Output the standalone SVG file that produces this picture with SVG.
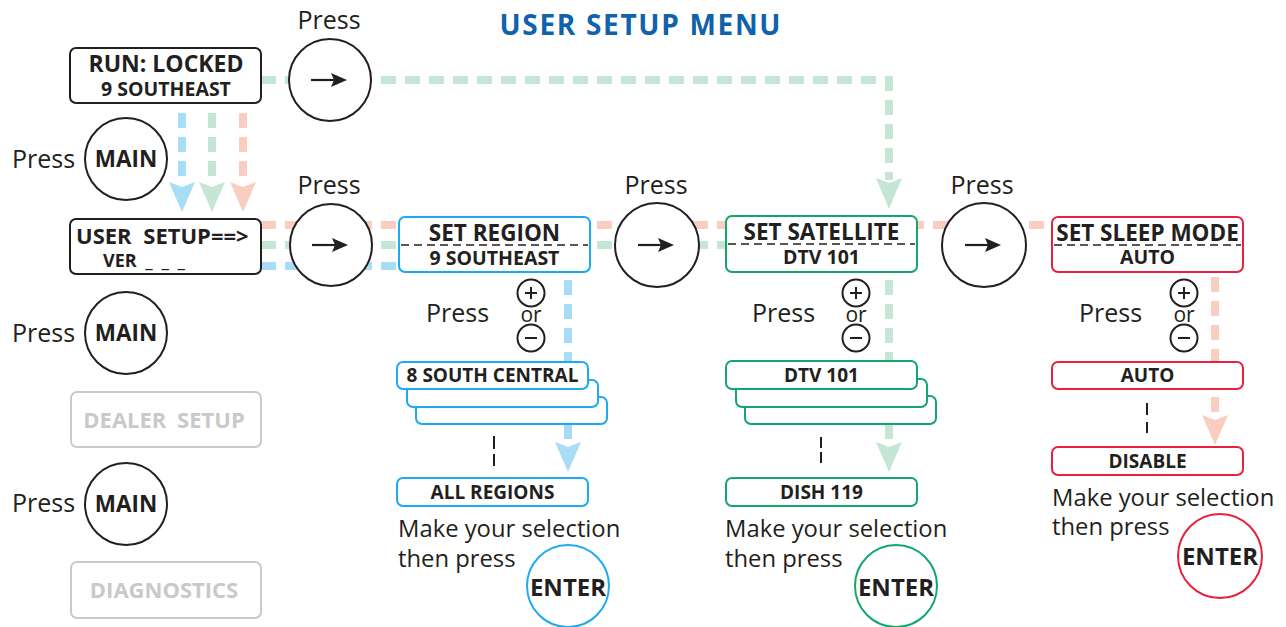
<svg xmlns="http://www.w3.org/2000/svg" width="1286" height="627" viewBox="0 0 1286 627">
<style>
text{font-family:"Open Sans","Noto Sans","Liberation Sans",sans-serif;fill:#231f20}
.b{font-weight:700}
.m{text-anchor:middle}
.p{font-size:25px}
.t1{font-size:22.5px;font-weight:700;text-anchor:middle}
.t2{font-size:19px;font-weight:700;text-anchor:middle}
.sel{font-size:23.8px}
.box{fill:#fff;stroke:#231f20;stroke-width:2}
.bl{fill:#fff;stroke:#1eaaf1;stroke-width:2}
.gr{fill:#fff;stroke:#12a86d;stroke-width:2}
.rd{fill:#fff;stroke:#e8213f;stroke-width:2}
.gy{fill:#fff;stroke:#c8c9cb;stroke-width:2}
.gyt{fill:#c8c9cb}
.dl{fill:none;stroke-width:8;stroke-dasharray:15 9}
.cb{stroke:#a9dcf5}.cg{stroke:#c5e6d5}.cr{stroke:#f9cdc0}
.fb{fill:#a9dcf5}.fg{fill:#c5e6d5}.fr{fill:#f9cdc0}
.sep{stroke:#231f20;stroke-width:1.3;stroke-dasharray:8 5}
.tick{stroke:#231f20;stroke-width:2}
</style>
<defs>
<g id="rarrow">
<line x1="-19" y1="0" x2="6" y2="0" stroke="#231f20" stroke-width="2.2"/>
<polygon points="17,0 1,-7 4,0 1,7" fill="#231f20"/>
</g>
<g id="plus">
<circle r="13.5" fill="#fff" stroke="#231f20" stroke-width="2"/>
<line x1="-6" y1="0" x2="6" y2="0" stroke="#231f20" stroke-width="2"/>
<line x1="0" y1="-6" x2="0" y2="6" stroke="#231f20" stroke-width="2"/>
</g>
<g id="minus">
<circle r="13.5" fill="#fff" stroke="#231f20" stroke-width="2"/>
<line x1="-6" y1="0" x2="6" y2="0" stroke="#231f20" stroke-width="2"/>
</g>
</defs>

<rect width="1286" height="627" fill="#fff"/>

<text id="title" x="640" y="35" class="b m" style="font-size:28px;fill:#1062aa" textLength="281">USER SETUP MENU</text>

<g id="connectors">
<path class="dl cg" d="M261,80 H889 V180"/>
<polygon class="fg" points="876,178 889,183 902,178 889,209"/>
<line class="dl cb" x1="182" y1="113" x2="182" y2="182"/>
<line class="dl cg" x1="212" y1="113" x2="212" y2="182"/>
<line class="dl cr" x1="243" y1="113" x2="243" y2="182"/>
<polygon class="fb" points="169,182 182,187 195,182 182,212"/>
<polygon class="fg" points="199,182 212,187 225,182 212,212"/>
<polygon class="fr" points="230,182 243,187 256,182 243,212"/>
<line class="dl cr" x1="261" y1="225" x2="1052" y2="225"/>
<line class="dl cg" x1="261" y1="245" x2="726" y2="245"/>
<line class="dl cb" x1="261" y1="266" x2="399" y2="266"/>
<line class="dl cb" x1="568" y1="280" x2="568" y2="444"/>
<polygon class="fb" points="555,442 568,447 581,442 568,472"/>
<line class="dl cg" x1="889" y1="280" x2="889" y2="444"/>
<polygon class="fg" points="876,442 889,447 902,442 889,472"/>
<line class="dl cr" x1="1215" y1="277" x2="1215" y2="417"/>
<polygon class="fr" points="1202,415 1215,420 1228,415 1215,445"/>
<line class="tick" x1="494" y1="436" x2="494" y2="449"/>
<line class="tick" x1="494" y1="454" x2="494" y2="466"/>
<line class="tick" x1="821" y1="437" x2="821" y2="448"/>
<line class="tick" x1="821" y1="452" x2="821" y2="463"/>
<line class="tick" x1="1147" y1="403" x2="1147" y2="415"/>
<line class="tick" x1="1147" y1="422" x2="1147" y2="433"/>
</g>

<g id="run-locked">
<rect class="box" x="70" y="48" width="191" height="55" rx="6"/>
<text x="166" y="72" class="m b" style="font-size:23px">RUN: LOCKED</text>
<text x="166" y="96" class="t2" style="font-size:19.5px">9 SOUTHEAST</text>
</g>

<g id="press-right-1">
<text x="329" y="29" class="p m">Press</text>
<circle cx="330" cy="80" r="41" class="box"/>
<use href="#rarrow" x="330" y="80"/>
</g>

<g id="press-main-1">
<text x="12" y="168" class="p">Press</text>
<circle cx="126" cy="159" r="41" class="box"/>
<text x="126" y="167" class="m b" style="font-size:22.5px">MAIN</text>
</g>

<g id="user-setup">
<rect class="box" x="70" y="219" width="191" height="55" rx="6"/>
<text x="76" y="244" class="b" style="font-size:22px;word-spacing:6px">USER SETUP==&gt;</text>
<text x="103" y="267" class="b" style="font-size:18px;word-spacing:4px">VER _ _ _</text>
</g>

<g id="press-right-2">
<text x="329" y="194" class="p m">Press</text>
<circle cx="331" cy="245" r="41" class="box"/>
<use href="#rarrow" x="331" y="245"/>
</g>

<g id="press-main-2">
<text x="12" y="342" class="p">Press</text>
<circle cx="126" cy="333" r="41" class="box"/>
<text x="126" y="341" class="m b" style="font-size:22.5px">MAIN</text>
</g>

<g id="dealer-setup">
<rect class="gy" x="71" y="392" width="190" height="55" rx="6"/>
<text x="164" y="428" class="m b gyt" style="font-size:22px;word-spacing:5px">DEALER SETUP</text>
</g>

<g id="press-main-3">
<text x="12" y="512" class="p">Press</text>
<circle cx="126" cy="504" r="41" class="box"/>
<text x="126" y="512" class="m b" style="font-size:22.5px">MAIN</text>
</g>

<g id="diagnostics">
<rect class="gy" x="71" y="562" width="190" height="56" rx="6"/>
<text x="164" y="598" class="m b gyt" style="font-size:22px">DIAGNOSTICS</text>
</g>

<g id="set-region">
<rect class="bl" x="399" y="217" width="191" height="55" rx="6"/>
<line class="sep" x1="401" y1="245" x2="588" y2="245"/>
<text x="494.5" y="241" class="t1">SET REGION</text>
<text x="494.5" y="265" class="t2" style="font-size:19.5px">9 SOUTHEAST</text>
</g>

<g id="region-press">
<text x="426" y="322" class="p">Press</text>
<use href="#plus" x="531" y="293"/>
<text x="531" y="322" class="m" style="font-size:21px">or</text>
<use href="#minus" x="531" y="338"/>
</g>

<g id="region-list">
<rect class="bl" x="416" y="397" width="191" height="27" rx="6"/>
<rect class="bl" x="407" y="380" width="191" height="27" rx="6"/>
<rect class="bl" x="397" y="362" width="191" height="27" rx="6"/>
<text x="492.5" y="382" class="t2">8 SOUTH CENTRAL</text>
</g>

<g id="all-regions">
<rect class="bl" x="397" y="478" width="191" height="28" rx="6"/>
<text x="492.5" y="499" class="t2">ALL REGIONS</text>
</g>

<g id="region-enter">
<text x="398" y="537" class="sel">Make your selection</text>
<text x="398" y="567" class="sel">then press</text>
<circle cx="568" cy="586" r="41" class="bl"/>
<text x="568" y="596" class="m b" style="font-size:24px">ENTER</text>
</g>

<g id="press-right-3">
<text x="656" y="194" class="p m">Press</text>
<circle cx="657" cy="245" r="42" class="box"/>
<use href="#rarrow" x="657" y="245"/>
</g>

<g id="set-satellite">
<rect class="gr" x="726" y="216" width="191" height="56" rx="6"/>
<line class="sep" x1="728" y1="244" x2="915" y2="244"/>
<text x="821.5" y="240" class="t1">SET SATELLITE</text>
<text x="821.5" y="264" class="t2" style="font-size:19.5px">DTV 101</text>
</g>

<g id="satellite-press">
<text x="752" y="322" class="p">Press</text>
<use href="#plus" x="856" y="293"/>
<text x="856" y="322" class="m" style="font-size:21px">or</text>
<use href="#minus" x="856" y="338"/>
</g>

<g id="satellite-list">
<rect class="gr" x="745" y="396" width="191" height="28" rx="6"/>
<rect class="gr" x="736" y="379" width="191" height="28" rx="6"/>
<rect class="gr" x="726" y="361" width="191" height="28" rx="6"/>
<text x="821.5" y="382" class="t2">DTV 101</text>
</g>

<g id="dish-119">
<rect class="gr" x="726" y="478" width="191" height="28" rx="6"/>
<text x="821.5" y="499" class="t2">DISH 119</text>
</g>

<g id="satellite-enter">
<text x="725" y="537" class="sel">Make your selection</text>
<text x="725" y="567" class="sel">then press</text>
<circle cx="896" cy="586" r="41" class="gr"/>
<text x="896" y="596" class="m b" style="font-size:24px">ENTER</text>
</g>

<g id="press-right-4">
<text x="982" y="194" class="p m">Press</text>
<circle cx="984" cy="245" r="42" class="box"/>
<use href="#rarrow" x="984" y="245"/>
</g>

<g id="set-sleep-mode">
<rect class="rd" x="1052" y="217" width="191" height="55" rx="6"/>
<line class="sep" x1="1054" y1="245" x2="1241" y2="245"/>
<text x="1147.5" y="241" class="t1">SET SLEEP MODE</text>
<text x="1147.5" y="264" class="t2" style="font-size:19.5px">AUTO</text>
</g>

<g id="sleep-press">
<text x="1079" y="322" class="p">Press</text>
<use href="#plus" x="1184" y="293"/>
<text x="1184" y="322" class="m" style="font-size:21px">or</text>
<use href="#minus" x="1184" y="338"/>
</g>

<g id="sleep-auto">
<rect class="rd" x="1052" y="362" width="191" height="27" rx="6"/>
<text x="1147.5" y="382" class="t2">AUTO</text>
</g>

<g id="sleep-disable">
<rect class="rd" x="1052" y="447" width="191" height="28" rx="6"/>
<text x="1147.5" y="468" class="t2">DISABLE</text>
</g>

<g id="sleep-enter">
<text x="1052" y="506" class="sel">Make your selection</text>
<text x="1052" y="535" class="sel">then press</text>
<circle cx="1220" cy="556" r="42" class="rd"/>
<text x="1220" y="565" class="m b" style="font-size:24px">ENTER</text>
</g>
</svg>
